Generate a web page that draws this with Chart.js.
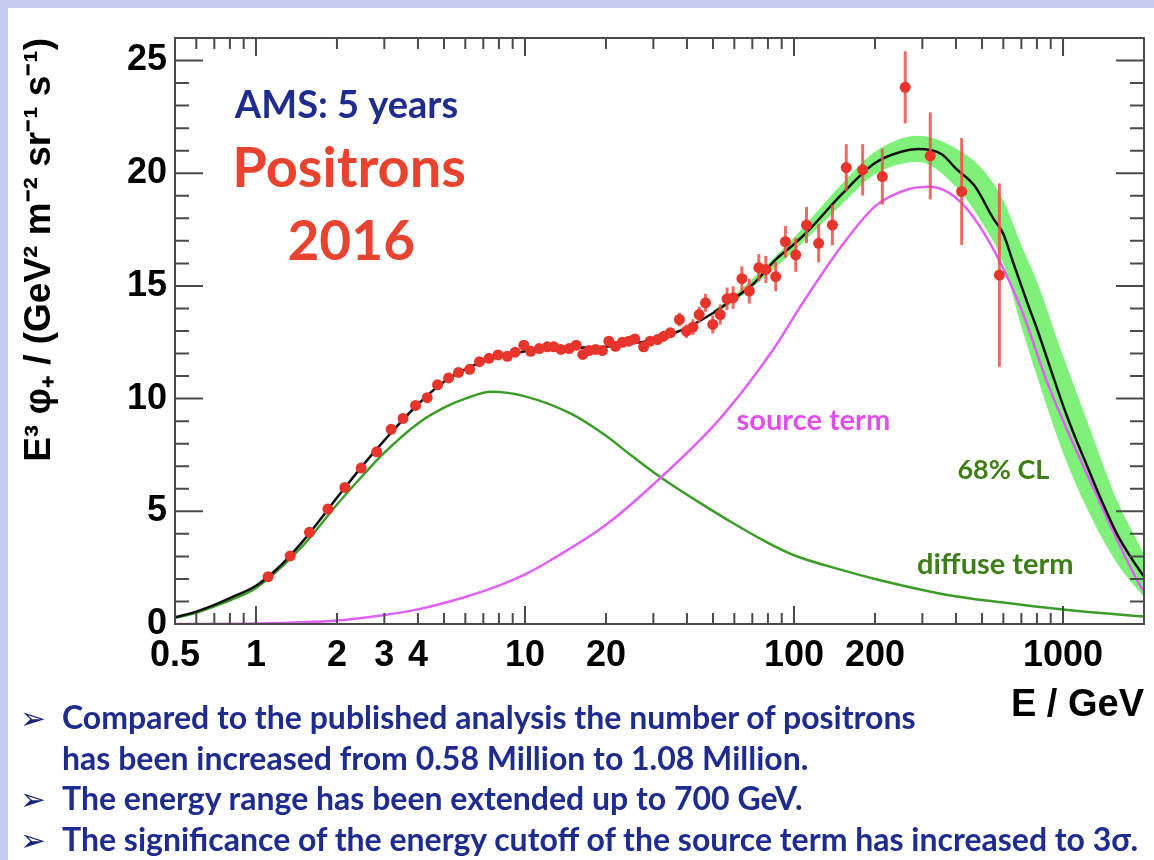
<!DOCTYPE html>
<html>
<head>
<meta charset="utf-8">
<title>AMS positrons 2016</title>
<script src="https://cdn.jsdelivr.net/npm/chart.js@4.4.1/dist/chart.umd.min.js"></script>
<style>
  html, body { margin: 0; padding: 0; }
  body { width: 1154px; height: 860px; background: #c6ccef; position: relative; overflow: hidden; }
  #panel { position: absolute; left: 8px; top: 8px; right: 0; bottom: 0; background: #fff; }
  #chart { position: absolute; left: 0; top: 0; }
  #notes { position: absolute; left: 20px; top: 697px; font-family: Lato, sans-serif; font-weight: 700;
           color: #1f2c8f; font-size: 32px; }
  #notes div { height: 40.5px; line-height: 40.5px; white-space: nowrap; }
  #notes .b { display: inline-block; width: 42px; font-family: "DejaVu Sans"; font-size: 31px; font-weight: 700; color: #16237e; }
</style>
</head>
<body>
<div id="panel"></div>
<canvas id="chart" width="1154" height="730"></canvas>
<div id="notes">
  <div><span class="b">➢</span>Compared to the published analysis the number of positrons</div>
  <div><span class="b"></span>has been increased from 0.58 Million to 1.08 Million.</div>
  <div><span class="b">➢</span>The energy range has been extended up to 700 GeV.</div>
  <div><span class="b">➢</span>The significance of the energy cutoff of the source term has increased to 3σ.</div>
</div>
<script>
// measured positron flux, E^3 * flux
const posE = [1.11, 1.34, 1.58, 1.85, 2.14, 2.46, 2.81, 3.18, 3.52, 3.92, 4.33, 4.73, 5.20, 5.66, 6.23, 6.77, 7.35, 7.94, 8.6, 9.2, 9.9,
  10.5, 11.3, 12.1, 12.8, 13.6, 14.6, 15.5, 16.4, 17.3, 18.3, 19.4,
  20.5, 21.7, 23.0, 24.3, 25.6, 27.6, 29.2, 31.1, 32.8, 34.7,
  37.5, 39.8, 42.1, 44.4, 46.9, 49.9, 53.2, 56.4, 59.4, 64, 68.2, 74, 78.6, 85.5, 92.9, 101.5, 111.3, 123.5, 138.9, 156.4, 180, 213, 259, 321, 420, 580];
const posFlux = [2.10, 3.02, 4.07, 5.10, 6.06, 6.92, 7.64, 8.64, 9.12, 9.70, 10.04, 10.61, 10.92, 11.16, 11.30, 11.64, 11.79, 11.94, 11.88, 12.06, 12.37,
  12.10, 12.22, 12.30, 12.30, 12.18, 12.22, 12.37, 11.96, 12.13, 12.18, 12.13,
  12.55, 12.32, 12.50, 12.55, 12.65, 12.30, 12.55, 12.62, 12.77, 12.92,
  13.51, 12.99, 13.17, 13.73, 14.25, 13.29, 13.73, 14.43, 14.48, 15.32, 14.77, 15.81, 15.73, 15.41, 16.96, 16.38, 17.70, 16.89, 17.70, 20.25, 20.15, 19.85, 23.81, 20.77, 19.19, 15.48];
const posErr = [0.05, 0.05, 0.05, 0.05, 0.05, 0.05, 0.05, 0.05, 0.05, 0.05, 0.05, 0.05, 0.05, 0.05, 0.05, 0.05, 0.05, 0.05, 0.05, 0.05, 0.05,
  0.1, 0.1, 0.1, 0.1, 0.1, 0.1, 0.1, 0.1, 0.1, 0.1, 0.1,
  0.15, 0.15, 0.15, 0.15, 0.15, 0.15, 0.15, 0.15, 0.15, 0.15,
  0.3, 0.3, 0.35, 0.35, 0.4, 0.4, 0.45, 0.5, 0.5, 0.55, 0.55, 0.6, 0.6, 0.65, 0.7, 0.75, 0.8, 0.85, 0.9, 1.04, 1.14, 1.24, 1.6, 1.93, 2.37, 4.07];

// fit: total
const fitE = [0.5, 0.6, 0.7, 0.8, 1, 1.2, 1.5, 2, 2.5, 3, 4, 5, 6, 7, 8, 10, 12, 15, 20, 25, 30, 40, 50, 60, 70, 86, 100, 114, 150, 200, 250, 289,
  354, 400, 469, 550, 600, 650, 700, 750, 800, 900, 1000, 1100, 1230, 1400, 1586, 1800, 2000];
const fitFlux = [0.3, 0.55, 0.85, 1.15, 1.7, 2.45, 3.7, 5.6, 7.05, 8.15, 9.75, 10.75, 11.3, 11.65, 11.85, 12.1, 12.2, 12.25, 12.3, 12.45, 12.6, 13.15, 13.8, 14.45, 15.05, 16.2, 16.85, 17.5, 19.05, 20.45, 20.95, 21.07,
  20.84, 20.2, 19.44, 18.0, 17.3, 16.1, 15.0, 14.0, 13.1, 11.3, 9.7, 8.4, 7.0, 5.4, 4.0, 2.9, 2.1];

// diffuse term
const diffuseE = [0.5, 0.6, 0.7, 0.8, 1, 1.5, 2, 2.5, 3, 4, 5, 6, 7.5, 10, 15, 20, 25, 32, 45, 57, 80, 100, 150, 200, 372, 600, 1000, 1500, 2000];
const diffuseFlux = [0.27, 0.5, 0.78, 1.05, 1.6, 3.5, 5.3, 6.6, 7.6, 8.9, 9.6, 10.0, 10.3, 10.1, 9.3, 8.35, 7.45, 6.5, 5.35, 4.6, 3.6, 3.05, 2.4, 2.0, 1.29, 0.95, 0.64, 0.45, 0.33];

// source term
const sourceE = [0.5, 1, 2, 3, 4, 6, 8, 10, 12.5, 20, 32, 53, 84, 104, 151, 201, 266, 320, 418, 541, 698, 875, 1300, 1935, 2000];
const sourceFlux = [0, 0.02, 0.15, 0.4, 0.65, 1.2, 1.7, 2.2, 2.84, 4.4, 6.5, 9.1, 12.2, 13.96, 16.8, 18.55, 19.29, 19.4, 18.7, 16.8, 14.0, 10.7, 6.0, 1.7, 1.45];

// 68% CL band
const bandE = [50, 60, 100, 150, 200, 289, 400, 500, 600, 700, 800, 1000, 1230, 1586, 2000];
const bandUpper = [13.9, 14.6, 17.15, 19.5, 20.95, 21.66, 21.1, 20.2, 18.8, 16.8, 15.2, 11.9, 9.0, 5.5, 3.1];
const bandLower = [13.7, 14.3, 16.55, 18.6, 19.95, 20.5, 19.4, 17.8, 16.0, 13.2, 11.0, 7.6, 5.1, 2.7, 1.2];

// axes
const xTicks = [0.5, 0.6, 0.7, 0.8, 0.9, 1, 2, 3, 4, 5, 6, 7, 8, 9, 10, 20, 30, 40, 50, 60, 70, 80, 90,
  100, 200, 300, 400, 500, 600, 700, 800, 900, 1000, 2000];
const xTickLabels = [0.5, 1, 2, 3, 4, 10, 20, 100, 200, 1000];
const yTicks = [0, 1, 2, 3, 4, 5, 6, 7, 8, 9, 10, 11, 12, 13, 14, 15, 16, 17, 18, 19, 20, 21, 22, 23, 24, 25];
const yTickLabels = [0, 5, 10, 15, 20, 25];

const pts = (xs, ys) => xs.map((x, i) => ({ x: x, y: ys[i] }));
const axisFont = { family: 'Liberation Sans', size: 36, weight: 'bold' };

const rootStyle = {
  id: 'rootStyle',
  beforeDatasetDraw(chart, args) {
    if (args.index !== 5) return;
    const { ctx, scales: { x, y } } = chart;
    ctx.save();
    ctx.strokeStyle = 'rgba(236, 80, 72, 0.85)';
    ctx.lineWidth = 3;
    posE.forEach((e, i) => {
      const px = x.getPixelForValue(e);
      ctx.beginPath();
      ctx.moveTo(px, y.getPixelForValue(posFlux[i] - posErr[i]));
      ctx.lineTo(px, y.getPixelForValue(posFlux[i] + posErr[i]));
      ctx.stroke();
    });
    ctx.restore();
  },
  afterDatasetsDraw(chart) {
    const { ctx, scales: { x, y } } = chart;
    const label = (text, e, v, color, size) => {
      ctx.fillStyle = color;
      ctx.font = 'bold ' + size + 'px Lato';
      ctx.fillText(text, x.getPixelForValue(e), y.getPixelForValue(v));
    };
    ctx.save();
    ctx.textAlign = 'center';
    ctx.textBaseline = 'middle';
    label('AMS: 5 years', 2.17, 22.98, '#1f2c8f', 38);
    label('Positrons', 2.22, 20.18, '#e8432e', 56);
    label('2016', 2.26, 16.93, '#e8432e', 55);
    label('source term', 118, 9.02, '#e04ef0', 29);
    label('68% CL', 600, 6.8, '#3d7f16', 27);
    label('diffuse term', 560, 2.62, '#3d7f16', 29);
    ctx.restore();
  },
  afterDraw(chart) {
    const { ctx, chartArea: a, scales: { x, y } } = chart;
    ctx.save();
    ctx.strokeStyle = '#4a4a4a';
    ctx.lineWidth = 2;
    ctx.beginPath();
    x.ticks.forEach(t => {
      const px = x.getPixelForValue(t.value);
      const major = Math.abs(Math.log10(t.value) % 1) < 1e-9;
      const len = major ? 18 : 11;
      ctx.moveTo(px, a.bottom); ctx.lineTo(px, a.bottom - len);
      ctx.moveTo(px, a.top); ctx.lineTo(px, a.top + len);
    });
    y.ticks.forEach(t => {
      const py = y.getPixelForValue(t.value);
      const len = t.value % 5 === 0 ? 28 : 14;
      ctx.moveTo(a.left, py); ctx.lineTo(a.left + len, py);
      ctx.moveTo(a.right, py); ctx.lineTo(a.right - len, py);
    });
    ctx.stroke();
    ctx.strokeRect(a.left, a.top, a.right - a.left, a.bottom - a.top);
    ctx.restore();
  }
};

new Chart(document.getElementById('chart'), {
  type: 'scatter',
  data: {
    datasets: [
      { data: pts(bandE, bandUpper), showLine: true, pointRadius: 0, borderWidth: 0, borderColor: 'rgba(0,0,0,0)',
        cubicInterpolationMode: 'monotone', order: 6 },
      { data: pts(bandE, bandLower), showLine: true, pointRadius: 0, borderWidth: 0, borderColor: 'rgba(0,0,0,0)',
        backgroundColor: '#7ff07a', fill: 0, cubicInterpolationMode: 'monotone', order: 5 },
      { data: pts(diffuseE, diffuseFlux), showLine: true, pointRadius: 0, borderWidth: 2.5, borderColor: '#3c9c28',
        cubicInterpolationMode: 'monotone', order: 4 },
      { data: pts(sourceE, sourceFlux), showLine: true, pointRadius: 0, borderWidth: 2.5, borderColor: '#e060f5',
        cubicInterpolationMode: 'monotone', order: 3 },
      { data: pts(fitE, fitFlux), showLine: true, pointRadius: 0, borderWidth: 2.5, borderColor: '#111111',
        cubicInterpolationMode: 'monotone', order: 2 },
      { data: pts(posE, posFlux), pointRadius: 5.5, pointBackgroundColor: '#e8352b', pointBorderWidth: 0, order: 1 }
    ]
  },
  options: {
    responsive: false,
    animation: false,
    layout: { padding: { top: 38, right: 6, left: 0, bottom: 0 } },
    plugins: { legend: { display: false }, tooltip: { enabled: false } },
    scales: {
      x: {
        type: 'logarithmic', min: 0.5, max: 2000,
        grid: { display: false, drawTicks: false }, border: { display: false },
        afterBuildTicks: s => { s.ticks = xTicks.map(v => ({ value: v })); },
        afterFit: s => { s.height = 106; },
        ticks: { autoSkip: false, maxRotation: 0, padding: 10, color: '#000', font: axisFont,
                 callback: v => xTickLabels.includes(v) ? String(v) : '' },
        title: { display: true, text: 'E / GeV', align: 'end', color: '#000',
                 font: { family: 'Liberation Sans', size: 38, weight: 'bold' }, padding: { top: 0, bottom: 2 } }
      },
      y: {
        min: 0, max: 26,
        grid: { display: false, drawTicks: false }, border: { display: false },
        afterBuildTicks: s => { s.ticks = yTicks.map(v => ({ value: v })); },
        afterFit: s => { s.width = 175; },
        ticks: { autoSkip: false, padding: 8, color: '#000', font: axisFont,
                 callback: v => yTickLabels.includes(v) ? String(v) : '' },
        title: { display: true, text: 'E³ φ₊ / (GeV² m⁻² sr⁻¹ s⁻¹)', align: 'end', color: '#000',
                 font: { family: 'Liberation Sans', size: 37, weight: 'bold' }, padding: { top: 18, bottom: 0 } }
      }
    }
  },
  plugins: [rootStyle]
});
</script>
</body>
</html>
